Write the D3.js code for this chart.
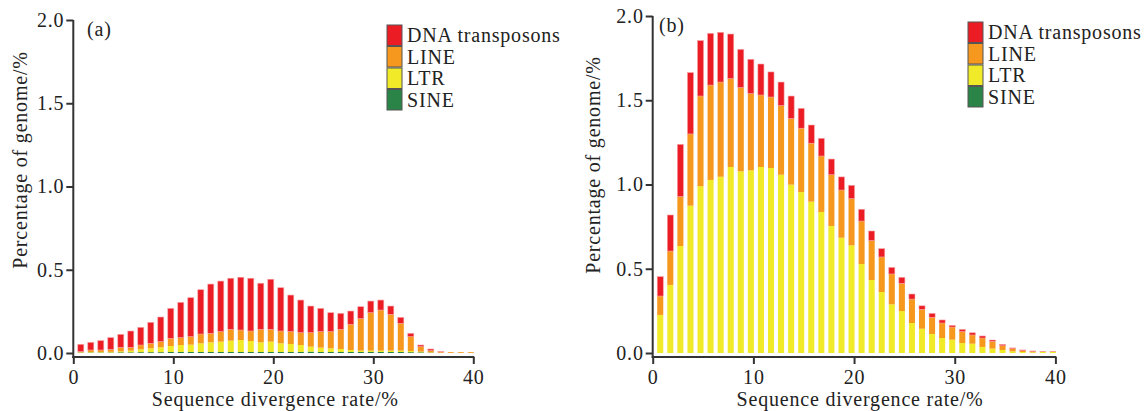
<!DOCTYPE html>
<html><head><meta charset="utf-8">
<script src="https://cdn.jsdelivr.net/npm/d3@7"></script>
<style>body{margin:0;background:#fff}svg{display:block}text{font-family:"Liberation Serif","Times New Roman",serif;fill:#222;letter-spacing:0.8px}</style>
</head><body><svg id="c" width="1145" height="411"></svg>
<script>
const divergence = d3.range(0, 40); // bins 0..39 (%)
const seriesKeys = ["SINE", "LTR", "LINE", "DNA transposons"];
const legendKeys = ["DNA transposons", "LINE", "LTR", "SINE"];
const colors = {"DNA transposons": "#ec1c24", "LINE": "#f7981e", "LTR": "#f1ea28", "SINE": "#2a8447"};
const yTicks = [0, 0.5, 1.0, 1.5, 2.0];
const xTicks = [0, 10, 20, 30, 40];

// panel (a)
const sineA = [0.002,0.003,0.003,0.003,0.004,0.004,0.005,0.005,0.005,0.006,0.006,0.006,0.006,0.006,0.006,0.006,0.006,0.006,0.006,0.006,0.006,0.006,0.006,0.008,0.006,0.006,0.006,0.006,0.006,0.006,0.006,0.006,0.006,0.005,0.004,0.002,0,0,0,0];
const ltrA = [0.002,0.003,0.003,0.004,0.006,0.010,0.017,0.023,0.029,0.036,0.042,0.044,0.052,0.058,0.062,0.068,0.072,0.066,0.058,0.062,0.052,0.048,0.042,0.030,0.026,0.022,0.018,0.012,0.008,0.008,0.008,0.008,0.008,0.007,0.004,0.002,0.001,0,0,0];
const lineA = [0.004,0.012,0.012,0.015,0.024,0.020,0.026,0.030,0.034,0.046,0.044,0.048,0.056,0.054,0.060,0.068,0.060,0.060,0.078,0.074,0.074,0.074,0.074,0.084,0.096,0.100,0.118,0.154,0.192,0.228,0.244,0.218,0.164,0.086,0.030,0.010,0.005,0.005,0.005,0.005];
const dnaA = [0.044,0.046,0.056,0.070,0.078,0.098,0.106,0.126,0.148,0.180,0.212,0.234,0.266,0.296,0.304,0.307,0.317,0.317,0.277,0.301,0.260,0.220,0.196,0.160,0.140,0.114,0.096,0.080,0.072,0.070,0.060,0.050,0.036,0.020,0.010,0.010,0.002,0,0,0];

// panel (b)
const sineB = new Array(40).fill(0);
const ltrB = [0.226,0.404,0.635,0.874,0.990,1.027,1.046,1.104,1.078,1.084,1.104,1.098,1.058,0.999,0.955,0.898,0.837,0.754,0.684,0.639,0.528,0.433,0.362,0.289,0.249,0.178,0.144,0.113,0.089,0.079,0.059,0.055,0.036,0.026,0.018,0.010,0.006,0.004,0.008,0.008];
const lineB = [0.112,0.201,0.293,0.426,0.535,0.563,0.562,0.524,0.497,0.455,0.427,0.421,0.410,0.392,0.379,0.347,0.332,0.304,0.283,0.277,0.255,0.234,0.208,0.180,0.164,0.142,0.115,0.099,0.089,0.075,0.068,0.052,0.053,0.043,0.025,0.016,0.008,0.006,0,0];
const dnaB = [0.115,0.214,0.310,0.364,0.329,0.307,0.295,0.265,0.227,0.204,0.184,0.149,0.140,0.134,0.118,0.108,0.105,0.093,0.078,0.079,0.070,0.057,0.049,0.039,0.036,0.030,0.021,0.023,0.018,0.010,0.013,0.013,0.012,0.008,0.008,0.004,0.004,0.002,0.002,0.002];

const svg = d3.select("#c");
svg.append("rect").attr("width",1145).attr("height",411).attr("fill","#fff");
const FONT = '"Liberation Serif", "Times New Roman", serif';

function panel(o) {
  const g = svg.append("g");
  const x = d3.scaleLinear([0, 40], [o.x0, o.x1]);
  const y = d3.scaleLinear([0, 2], [o.y0, o.y2]);
  const band = d3.scaleBand(divergence, [x(0.25), x(40.25)]).paddingInner(0.4).paddingOuter(0.2);
  const rows = divergence.map((d, i) => ({bin: d, "SINE": o.sine[i], "LTR": o.ltr[i], "LINE": o.line[i], "DNA transposons": o.dna[i]}));
  const stacked = d3.stack().keys(seriesKeys)(rows);
  g.selectAll("g.s").data(stacked).join("g").attr("fill", s => colors[s.key])
    .attr("stroke", s => s.key === "DNA transposons" ? "#f6a0a4" : "none").attr("stroke-width", 0.6)
    .selectAll("rect").data(s => s).join("rect")
    .attr("x", d => band(d.data.bin)).attr("width", band.bandwidth())
    .attr("y", d => y(d[1])).attr("height", d => Math.max(0, y(d[0]) - y(d[1])));

  const axY = g.append("g").attr("transform", `translate(${o.x0},0)`)
    .call(d3.axisLeft(y).tickValues(yTicks).tickFormat(d3.format(".1f")).tickSize(7).tickPadding(2));
  axY.select(".domain").remove();
  const axX = g.append("g").attr("transform", `translate(0,${o.xAxisY})`)
    .call(d3.axisBottom(x).tickValues(xTicks).tickSize(7).tickPadding(6).tickSizeOuter(0));
  axX.select(".domain").remove();
  g.append("line").attr("x1", o.x0).attr("x2", o.x0).attr("y1", y(2)).attr("y2", o.xAxisY + 1)
    .attr("stroke", "#333").attr("stroke-width", 2);
  g.append("line").attr("x1", o.x0 - 1).attr("x2", x(40) + 1).attr("y1", o.xAxisY).attr("y2", o.xAxisY)
    .attr("stroke", "#333").attr("stroke-width", 2);
  [axX, axY].forEach(a => a.attr("font-family", FONT).attr("font-size", 20));
  g.selectAll(".tick line").attr("stroke", "#333").attr("stroke-width", 2);
  g.selectAll(".tick text").attr("font-size", 20).attr("fill", "#222").style("font-family", FONT);

  g.append("text").attr("x", o.labX).attr("y", o.labY).attr("font-size", 20).text(o.label);
  g.append("text").attr("transform", `translate(${o.titleX},${o.titleY}) rotate(-90)`)
    .attr("text-anchor", "middle").attr("font-size", 20).text("Percentage of genome/%");
  g.append("text").attr("x", x(20) + o.xtOff).attr("y", 406).attr("text-anchor", "middle")
    .attr("font-size", 20).text("Sequence divergence rate/%");

  const lg = g.append("g").attr("transform", `translate(${o.legX},${o.legY})`);
  legendKeys.forEach((k, i) => {
    lg.append("rect").attr("x", 0).attr("y", i * 21.5).attr("width", 15).attr("height", 20.5)
      .attr("fill", colors[k]).attr("stroke", "#555").attr("stroke-width", 1);
    lg.append("text").attr("x", 20).attr("y", i * 21.5 + 17).attr("font-size", 20).text(k);
  });
}

panel({x0: 73.3, x1: 473.3, y0: 353, y2: 20, xAxisY: 357, sine: sineA, ltr: ltrA, line: lineA, dna: dnaA,
       label: "(a)", labX: 87, labY: 36, titleX: 27, titleY: 160, xtOff: 2, legX: 387, legY: 25});
panel({x0: 652.7, x1: 1055.4, y0: 353, y2: 16, xAxisY: 357, sine: sineB, ltr: ltrB, line: lineB, dna: dnaB,
       label: "(b)", labX: 659, labY: 32, titleX: 600, titleY: 165, xtOff: 6, legX: 968, legY: 22});
</script></body></html>
